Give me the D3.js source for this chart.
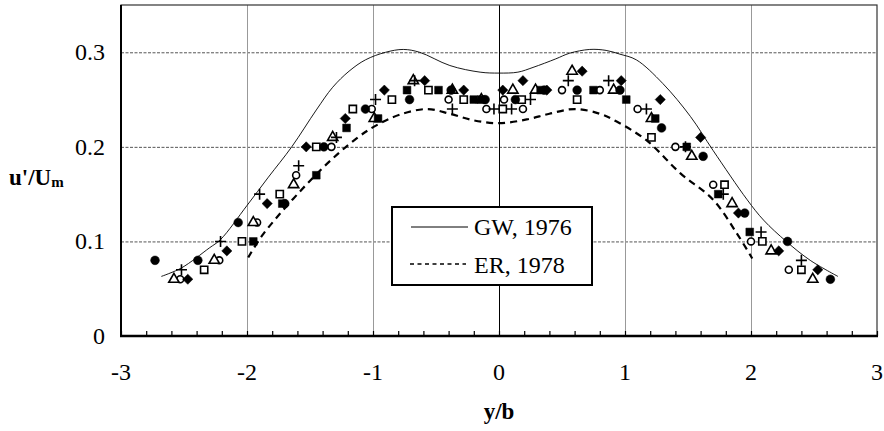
<!DOCTYPE html>
<html>
<head>
<meta charset="utf-8">
<script src="https://cdn.jsdelivr.net/npm/d3@7"></script>
<style>
  body { margin: 0; background: #fff; }
  svg { display: block; font-family: "Liberation Serif", "DejaVu Serif", serif; }
  .grid-h line { stroke: #555; stroke-dasharray: 3,1.5; }
  .grid-v line { stroke: #999; }
</style>
</head>
<body>
<div id="container"></div>
<script>
// tick values
const xTicks = [-3, -2, -1, 0, 1, 2, 3];
const yTicks = [0, 0.1, 0.2, 0.3];

// measured points, [y/b, u'/Um]
const filledCircle = [[-2.73,0.08],[-2.39,0.08],[-2.07,0.12],[-1.70,0.14],[-1.39,0.20],[-1.06,0.24],
  [-0.71,0.25],[-0.38,0.26],[-0.11,0.25],[0.13,0.25],[0.36,0.26],[0.62,0.26],[0.96,0.26],
  [1.29,0.22],[1.62,0.19],[1.95,0.13],[2.29,0.10],[2.63,0.06]];
const openCircle = [[-2.53,0.06],[-2.22,0.08],[-1.92,0.12],[-1.61,0.17],[-1.33,0.20],[-1.01,0.24],
  [-0.40,0.25],[-0.10,0.24],[0.04,0.25],[0.19,0.24],[0.50,0.26],[0.80,0.26],[1.10,0.24],
  [1.40,0.20],[1.70,0.16],[2.00,0.10],[2.30,0.07]];
const filledSquare = [[-1.95,0.10],[-1.72,0.14],[-1.45,0.17],[-1.21,0.22],[-0.96,0.23],[-0.73,0.26],
  [-0.48,0.26],[-0.20,0.25],[-0.14,0.25],[0.33,0.26],[0.75,0.26],[1.01,0.25],[1.24,0.23],
  [1.49,0.20],[1.74,0.15],[1.99,0.11]];
const openSquare = [[-2.34,0.07],[-2.04,0.10],[-1.74,0.15],[-1.45,0.20],[-1.16,0.24],[-0.85,0.25],
  [-0.56,0.26],[-0.28,0.25],[0.03,0.24],[0.18,0.25],[0.62,0.25],[1.21,0.21],[1.79,0.16],
  [2.09,0.10],[2.40,0.07]];
const filledDiamond = [[-2.47,0.06],[-2.16,0.09],[-1.84,0.14],[-1.53,0.20],[-1.22,0.23],[-0.91,0.26],
  [-0.59,0.27],[-0.28,0.26],[0.03,0.26],[0.19,0.27],[0.38,0.26],[0.66,0.28],[0.97,0.27],
  [1.28,0.25],[1.60,0.21],[1.90,0.13],[2.22,0.09],[2.53,0.07]];
const openTriangle = [[-2.58,0.06],[-2.26,0.08],[-1.95,0.12],[-1.63,0.16],[-1.32,0.21],[-0.99,0.23],
  [-0.68,0.27],[-0.37,0.26],[-0.14,0.25],[0.11,0.26],[0.29,0.26],[0.58,0.28],[0.91,0.26],
  [1.21,0.23],[1.53,0.19],[1.85,0.14],[2.16,0.09],[2.49,0.06]];
const plusMark = [[-2.52,0.07],[-2.21,0.10],[-1.90,0.15],[-1.59,0.18],[-1.29,0.21],[-0.98,0.25],
  [-0.67,0.27],[-0.37,0.24],[-0.04,0.24],[0.10,0.24],[0.25,0.25],[0.55,0.27],[0.87,0.27],
  [1.17,0.24],[1.48,0.20],[1.78,0.15],[2.08,0.11],[2.40,0.08]];

// curves
const gwX = [-2.68,-2.52,-2.30,-2.21,-2.00,-1.83,-1.645,-1.45,-1.32,-1.19,-1.06,-0.90,-0.76,-0.63,-0.39,
  -0.15,0,0.15,0.27,0.45,0.56,0.72,0.85,0.96,1.09,1.30,1.52,1.70,1.97,2.10,2.28,2.47,2.69];
const gwY = [0.063,0.072,0.093,0.102,0.138,0.168,0.200,0.239,0.263,0.280,0.292,0.300,0.303,0.300,0.286,
  0.279,0.278,0.279,0.284,0.293,0.299,0.303,0.302,0.298,0.292,0.267,0.232,0.196,0.144,0.1225,0.100,0.080,0.063];
const erX = [-1.99,-1.87,-1.42,-1.13,-0.97,-0.79,-0.57,-0.39,-0.20,0,0.22,0.40,0.60,0.80,0.93,
  1.17,1.44,1.70,1.89,2.01];
const erY = [0.083,0.108,0.175,0.209,0.223,0.234,0.240,0.235,0.228,0.225,0.229,0.235,0.240,0.235,0.227,
  0.207,0.172,0.144,0.108,0.082];

const w = 884;
const h = 431;

const svg = d3.select('#container').append('svg')
  .attr('width', w)
  .attr('height', h);

const x = d3.scaleLinear().domain([-3, 3]).range([121, 877]);
const y = d3.scaleLinear().domain([0, 0.35]).range([336, 5]);

// gridlines
svg.append('g')
  .attr('class', 'grid-h')
  .attr('transform', 'translate(121,0)')
  .call(d3.axisLeft(y).tickValues(yTicks.slice(1)).tickSize(-756).tickFormat(''))
  .call(g => g.select('.domain').remove());

svg.append('g')
  .attr('class', 'grid-v')
  .attr('transform', 'translate(0,336)')
  .call(d3.axisBottom(x).tickValues(xTicks.slice(1, -1)).tickSize(-331).tickFormat(''))
  .call(g => g.select('.domain').remove())
  .call(g => g.selectAll('line').filter(d => d === 0).style('stroke', '#000'));

// frame
svg.append('rect')
  .attr('x', 121).attr('y', 5).attr('width', 756).attr('height', 331)
  .attr('fill', 'none').attr('stroke', '#333').attr('stroke-width', 1.2);
svg.append('line')
  .attr('x1', 121).attr('x2', 121).attr('y1', 5).attr('y2', 337)
  .attr('stroke', '#000').attr('stroke-width', 2);

// minor ticks on x axis
svg.append('g')
  .attr('transform', 'translate(0,336)')
  .call(d3.axisBottom(x).tickValues(d3.range(-30, 31, 2).map(d => d / 10)).tickSize(-5).tickFormat(''))
  .call(g => g.select('.domain').remove())
  .call(g => g.selectAll('line').attr('stroke', '#000').attr('stroke-width', 1.2));

svg.append('line')
  .attr('x1', 120).attr('x2', 878).attr('y1', 336).attr('y2', 336)
  .attr('stroke', '#000').attr('stroke-width', 2.5);

// tick labels
svg.append('g')
  .selectAll('text')
  .data(xTicks)
  .enter()
  .append('text')
  .attr('x', d => x(d))
  .attr('y', 380)
  .attr('text-anchor', 'middle')
  .attr('font-size', 24)
  .text(d => d);

svg.append('g')
  .selectAll('text')
  .data(yTicks)
  .enter()
  .append('text')
  .attr('x', 105)
  .attr('y', d => y(d) + 8)
  .attr('text-anchor', 'end')
  .attr('font-size', 24)
  .text(d => d === 0 ? '0' : d3.format('.1f')(d));

// axis titles
const yl = svg.append('text')
  .attr('x', 9)
  .attr('y', 185)
  .attr('font-size', 23)
  .attr('font-weight', 'bold');
yl.append('tspan').text("u'/U");
yl.append('tspan').attr('font-size', 15).attr('dy', 2).text('m');

svg.append('text')
  .attr('x', 499)
  .attr('y', 419)
  .attr('text-anchor', 'middle')
  .attr('font-size', 23)
  .attr('font-weight', 'bold')
  .text('y/b');

// curves
const line = d3.line()
  .x(d => x(d[0]))
  .y(d => y(d[1]))
  .curve(d3.curveCatmullRom);

svg.append('path')
  .datum(d3.zip(gwX, gwY))
  .attr('d', line)
  .attr('fill', 'none')
  .attr('stroke', '#000')
  .attr('stroke-width', 0.9);

svg.append('path')
  .datum(d3.zip(erX, erY))
  .attr('d', line)
  .attr('fill', 'none')
  .attr('stroke', '#000')
  .attr('stroke-width', 2.2)
  .attr('stroke-dasharray', '7,5');

// markers
function drawSymbols(data, type, size, filled, rotate) {
  svg.append('g')
    .selectAll('path')
    .data(data)
    .enter()
    .append('path')
    .attr('d', d3.symbol().type(type).size(size))
    .attr('transform', d => `translate(${x(d[0])},${y(d[1])})${rotate ? ' rotate(45)' : ''}`)
    .attr('fill', filled ? '#000' : '#fff')
    .attr('stroke', '#000')
    .attr('stroke-width', filled ? 0.5 : 1.6);
}

drawSymbols(openSquare, d3.symbolSquare, 52, false);
drawSymbols(openCircle, d3.symbolCircle, 38, false);
drawSymbols(openTriangle, d3.symbolTriangle, 46, false);
drawSymbols(filledSquare, d3.symbolSquare, 60, true);
drawSymbols(filledCircle, d3.symbolCircle, 60, true);
drawSymbols(filledDiamond, d3.symbolSquare, 52, true, true);

svg.append('g')
  .selectAll('path')
  .data(plusMark)
  .enter()
  .append('path')
  .attr('d', 'M-5.5,0H5.5M0,-5.5V5.5')
  .attr('transform', d => `translate(${x(d[0])},${y(d[1])})`)
  .attr('stroke', '#000')
  .attr('stroke-width', 1.6);

// legend
const lg = svg.append('g');
lg.append('rect')
  .attr('x', 392).attr('y', 207).attr('width', 200).attr('height', 78)
  .attr('fill', '#fff').attr('stroke', '#000').attr('stroke-width', 2);
lg.append('line')
  .attr('x1', 411).attr('x2', 468).attr('y1', 227).attr('y2', 227)
  .attr('stroke', '#000').attr('stroke-width', 1);
lg.append('line')
  .attr('x1', 410).attr('x2', 466).attr('y1', 264).attr('y2', 264)
  .attr('stroke', '#000').attr('stroke-width', 1.5).attr('stroke-dasharray', '4,3.5');
lg.append('text').attr('x', 474).attr('y', 235).attr('font-size', 24).text('GW, 1976');
lg.append('text').attr('x', 474).attr('y', 273).attr('font-size', 24).text('ER, 1978');
</script>
</body>
</html>
